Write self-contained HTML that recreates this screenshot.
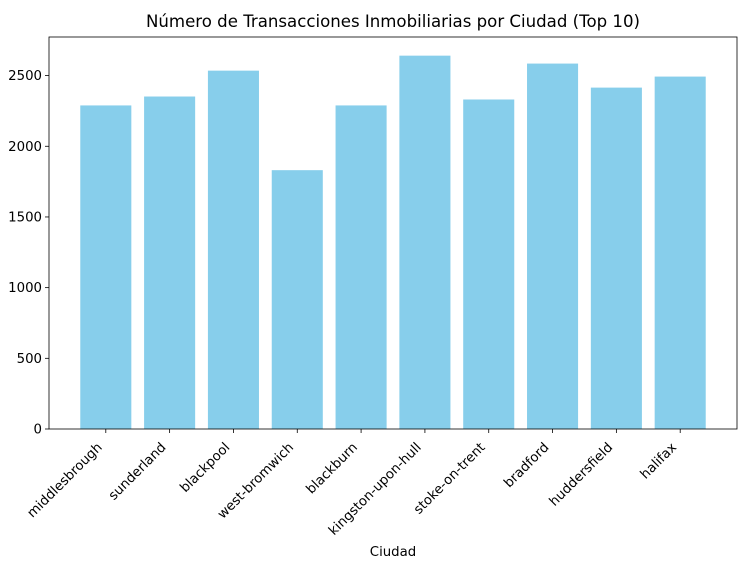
<!DOCTYPE html>
<html><head><meta charset="utf-8"><style>
body{margin:0;background:#fff;font-family:"Liberation Sans","DejaVu Sans",sans-serif;}
svg text{font-family:"DejaVu Sans","Liberation Sans",sans-serif;fill:#000;}
</style></head><body>
<svg id="chart" width="746" height="566">
<text x="393" y="27" text-anchor="middle" font-size="16.6">Número de Transacciones Inmobiliarias por Ciudad (Top 10)</text>
<g id="bars"></g><g id="axes"></g>
<text x="393" y="556" text-anchor="middle" font-size="13.3">Ciudad</text>
</svg>
<script>
const categories=["middlesbrough","sunderland","blackpool","west-bromwich","blackburn","kingston-upon-hull","stoke-on-trent","bradford","huddersfield","halifax"];
const values=[2289,2352,2535,1831,2289,2641,2331,2585,2415,2493];
const yTicks=[0,500,1000,1500,2000,2500];
const L=49,R=737,T=37,B=429;
const ymax=Math.max(...values)*1.05;
const y=v=>B-(v/ymax)*(B-T);
const x0=-0.89,x1=categories.length-1+0.89;
const x=i=>L+(i-x0)/(x1-x0)*(R-L);
const bw=0.8*(R-L)/(x1-x0);
const ns="http://www.w3.org/2000/svg";
const bars=document.getElementById('bars'),axes=document.getElementById('axes');
function mk(tag,attrs,parent){const e=document.createElementNS(ns,tag);for(const k in attrs)e.setAttribute(k,attrs[k]);parent.appendChild(e);return e;}
values.forEach((v,i)=>{
 const r=mk('rect',{x:x(i)-bw/2,y:y(v),width:bw,height:B-y(v),fill:'#87ceeb'},bars);
 
 
 mk('line',{x1:x(i),x2:x(i),y1:B,y2:B+4,stroke:'#000','stroke-width':0.8},axes);
 const lb=mk('text',{x:0,y:0,'font-size':13.3,'text-anchor':'end',transform:`translate(${x(i)-3},${B+19}) rotate(-45)`},axes);
 lb.textContent=categories[i];
 
 
});
yTicks.forEach(v=>{
 mk('line',{x1:L-4,x2:L,y1:y(v),y2:y(v),stroke:'#000','stroke-width':0.8},axes);
 const t=mk('text',{x:L-7,y:y(v)+4.5,'font-size':13.3,'text-anchor':'end'},axes);
 t.textContent=v;
 
 
});
const f=mk('rect',{x:L,y:T,width:R-L,height:B-T,fill:'none',stroke:'#000','stroke-width':0.8},axes);


</script>
</body></html>
